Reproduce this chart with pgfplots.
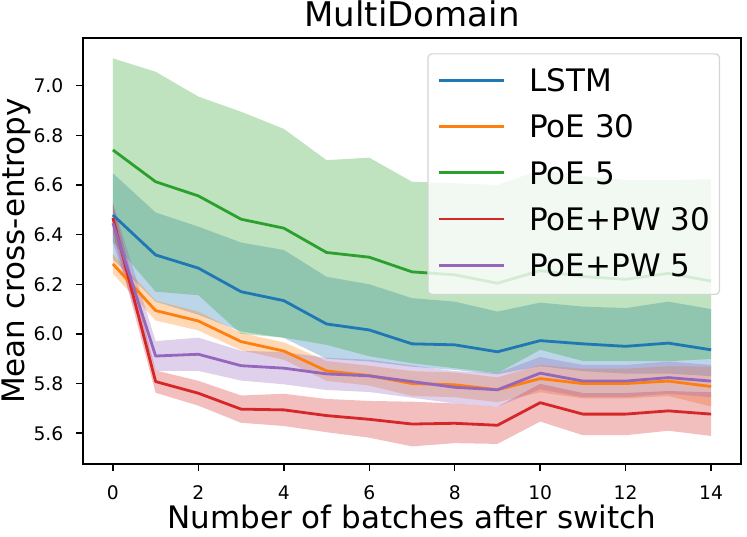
\documentclass[border=0pt]{standalone}
\usepackage{fontspec}
\setmainfont{DejaVu Sans}
\usepackage{pgfplots}
\usepackage{pgfplotstable}
\usepgfplotslibrary{fillbetween}
\pgfplotsset{compat=1.18}

\definecolor{cB}{HTML}{1F77B4}
\definecolor{cO}{HTML}{FF7F0E}
\definecolor{cG}{HTML}{2CA02C}
\definecolor{cR}{HTML}{D62728}
\definecolor{cP}{HTML}{9467BD}

% LSTM
\pgfplotstableread{
x m u l
0 6.479 6.647 6.300
1 6.318 6.489 6.130
2 6.265 6.432 6.077
3 6.170 6.368 6.010
4 6.134 6.338 5.984
5 6.040 6.230 5.900
6 6.016 6.200 5.889
7 5.960 6.144 5.868
8 5.956 6.130 5.855
9 5.928 6.090 5.837
10 5.973 6.126 5.870
11 5.960 6.110 5.850
12 5.950 6.104 5.840
13 5.963 6.130 5.840
14 5.936 6.100 5.830
}\lstm

% PoE 30
\pgfplotstableread{
x m u l
0 6.282 6.322 6.242
1 6.094 6.134 6.054
2 6.052 6.090 6.014
3 5.969 6.004 5.934
4 5.931 5.966 5.896
5 5.851 5.891 5.811
6 5.832 5.872 5.792
7 5.800 5.850 5.750
8 5.795 5.845 5.745
9 5.775 5.825 5.725
10 5.820 5.875 5.765
11 5.800 5.860 5.740
12 5.800 5.860 5.740
13 5.810 5.870 5.750
14 5.788 5.868 5.708
}\poeA

% PoE 5
\pgfplotstableread{
x m u l
0 6.741 7.110 6.370
1 6.613 7.056 6.170
2 6.556 6.956 6.156
3 6.462 6.895 6.000
4 6.426 6.826 5.985
5 6.328 6.700 5.956
6 6.309 6.710 5.910
7 6.250 6.613 5.882
8 6.238 6.607 5.862
9 6.204 6.600 5.842
10 6.255 6.660 5.936
11 6.231 6.636 5.891
12 6.220 6.620 5.890
13 6.244 6.620 5.890
14 6.213 6.623 5.899
}\poeB

% PoE+PW 30
\pgfplotstableread{
x m u l
0 6.467 6.527 6.407
1 5.808 5.853 5.763
2 5.761 5.811 5.711
3 5.697 5.752 5.642
4 5.694 5.759 5.629
5 5.671 5.738 5.604
6 5.656 5.730 5.582
7 5.637 5.727 5.547
8 5.640 5.720 5.560
9 5.632 5.707 5.557
10 5.723 5.799 5.647
11 5.677 5.762 5.592
12 5.677 5.762 5.592
13 5.690 5.770 5.610
14 5.677 5.765 5.589
}\pwA

% PoE+PW 5
\pgfplotstableread{
x m u l
0 6.446 6.526 6.366
1 5.911 5.971 5.851
2 5.918 5.985 5.851
3 5.872 5.932 5.812
4 5.862 5.927 5.797
5 5.839 5.904 5.774
6 5.831 5.896 5.766
7 5.808 5.873 5.743
8 5.785 5.850 5.720
9 5.775 5.843 5.707
10 5.842 5.907 5.777
11 5.810 5.875 5.745
12 5.810 5.875 5.745
13 5.824 5.889 5.759
14 5.810 5.875 5.745
}\pwB

\begin{document}
\begin{tikzpicture}
\begin{axis}[
  width=658pt, height=426pt, scale only axis,
  xmin=-0.7, xmax=14.7, ymin=5.476, ymax=7.192,
  xtick={0,2,4,6,8,10,12,14},
  ytick={5.6,5.8,6.0,6.2,6.4,6.6,6.8,7.0},
  tick pos=left, tick align=outside,
  major tick length=6.5pt,
  every tick/.style={black, line width=1.5pt},
  axis line style={line width=1.5pt},
  /pgf/number format/assume math mode=true,
  ticklabel style={font=\fontsize{18.7}{22}\selectfont},
  xticklabel style={anchor=base, inner sep=0pt, yshift=-29.3pt},
  yticklabel style={anchor=east, inner sep=0pt, xshift=-13pt,
    /pgf/number format/.cd, fixed, fixed zerofill, precision=1, /tikz/.cd},
  every axis title shift=0pt,
  title={MultiDomain},
  title style={at={(axis description cs:0.5,1)}, anchor=base, inner sep=0pt,
    yshift=11.3pt, font=\fontsize{34}{40}\selectfont},
  xlabel={Number of batches after switch},
  xlabel style={at={(axis description cs:0.5,0)}, anchor=base, inner sep=0pt,
    yshift=-64.3pt, font=\fontsize{31}{37}\selectfont},
  ylabel={Mean cross-entropy},
  ylabel style={at={(axis description cs:-0.0889,0.5)}, anchor=base, inner sep=0pt,
    font=\fontsize{31}{37}\selectfont},
  legend image code/.code={\draw[#1] (0pt,11.3pt) -- (65pt,11.3pt);},
  legend style={at={(axis description cs:0.5233,0.9641)}, anchor=north west,
    draw=black!17, line width=1.2pt, rounded corners=4pt,
    fill=white, fill opacity=0.8, text opacity=1,
    inner xsep=9.5pt, inner ysep=15pt,
    row sep=21pt, column sep=24pt,
    font=\fontsize{31}{37}\selectfont,
    cells={anchor=base west},
    nodes={inner sep=0pt, text height=22.6pt, text depth=2.7pt}},
]
% band boundaries
\addplot[draw=none, name path=lstmU, forget plot] table[x=x,y=u]{\lstm};
\addplot[draw=none, name path=lstmL, forget plot] table[x=x,y=l]{\lstm};
\addplot[draw=none, name path=poeAU, forget plot] table[x=x,y=u]{\poeA};
\addplot[draw=none, name path=poeAL, forget plot] table[x=x,y=l]{\poeA};
\addplot[draw=none, name path=poeBU, forget plot] table[x=x,y=u]{\poeB};
\addplot[draw=none, name path=poeBL, forget plot] table[x=x,y=l]{\poeB};
\addplot[draw=none, name path=pwAU, forget plot] table[x=x,y=u]{\pwA};
\addplot[draw=none, name path=pwAL, forget plot] table[x=x,y=l]{\pwA};
\addplot[draw=none, name path=pwBU, forget plot] table[x=x,y=u]{\pwB};
\addplot[draw=none, name path=pwBL, forget plot] table[x=x,y=l]{\pwB};
% bands
\addplot[fill=cB, fill opacity=0.3, draw=none, forget plot] fill between[of=lstmU and lstmL];
\addplot[fill=cO, fill opacity=0.3, draw=none, forget plot] fill between[of=poeAU and poeAL];
\addplot[fill=cG, fill opacity=0.3, draw=none, forget plot] fill between[of=poeBU and poeBL];
\addplot[fill=cR, fill opacity=0.3, draw=none, forget plot] fill between[of=pwAU and pwAL];
\addplot[fill=cP, fill opacity=0.3, draw=none, forget plot] fill between[of=pwBU and pwBL];
% mean lines
\addplot[cB, line width=2.8pt, line join=round] table[x=x,y=m]{\lstm};
\addlegendentry{LSTM}
\addplot[cO, line width=2.8pt, line join=round] table[x=x,y=m]{\poeA};
\addlegendentry{PoE 30}
\addplot[cG, line width=2.8pt, line join=round] table[x=x,y=m]{\poeB};
\addlegendentry{PoE 5}
\addplot[cR, line width=2.8pt, line join=round] table[x=x,y=m]{\pwA};
\addlegendentry{PoE+PW 30}
\addplot[cP, line width=2.8pt, line join=round] table[x=x,y=m]{\pwB};
\addlegendentry{PoE+PW 5}
\end{axis}
\pgfresetboundingbox
\path ([shift={(-83pt,-72pt)}]current axis.south west) rectangle ([shift={(6pt,38pt)}]current axis.north east);
\end{tikzpicture}
\end{document}
